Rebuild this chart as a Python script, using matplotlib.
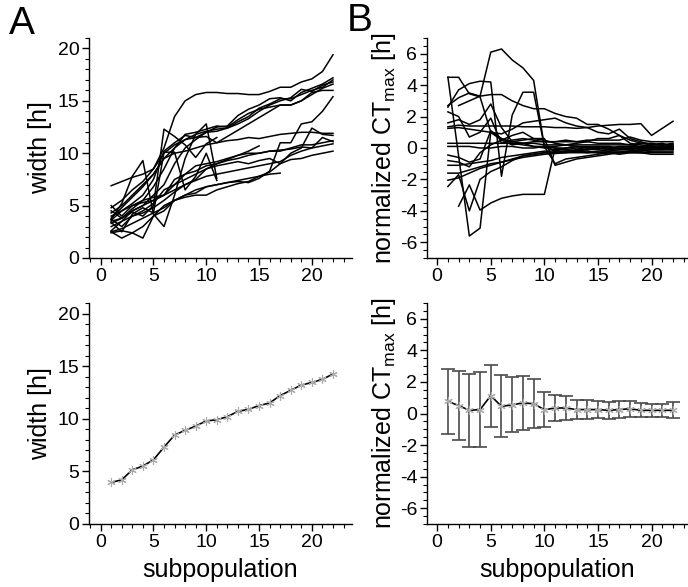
import numpy as np
import matplotlib
matplotlib.use("Agg")
from matplotlib import pyplot as plt
from matplotlib.ticker import MultipleLocator

plt.rcParams['font.family'] = ['Liberation Sans', 'DejaVu Sans']
plt.rcParams['mathtext.fontset'] = 'custom'
plt.rcParams['mathtext.rm'] = 'Liberation Sans'
plt.rcParams['mathtext.it'] = 'Liberation Sans'
plt.rcParams['axes.unicode_minus'] = False

# width [h] per subpopulation, one list per lineage (starting at subpopulation 1)
width_lines = [
    [4.8, 5.5, 6.5, 7.3, 8.5, 10.5, 13.5, 15.0, 15.6, 15.8, 15.8, 15.7, 15.7, 15.6, 15.6, 15.9, 16.3, 16.3, 16.8, 17.1, 17.8, 19.4],
    [3.6, 4.5, 5.2, 6.0, 7.5, 10.2, 11.0, 11.7, 11.5, 12.0, 12.5, 12.6, 13.6, 14.2, 14.6, 15.2, 15.3, 15.0, 15.8, 16.2, 16.6, 17.2],
    [3.3, 3.8, 4.7, 5.5, 6.8, 8.5, 10.5, 11.3, 11.8, 12.1, 12.3, 12.4, 13.0, 13.5, 14.3, 14.7, 15.2, 15.2, 15.6, 16.0, 16.3, 17.0],
    [2.6, 3.5, 4.5, 5.0, 6.0, 7.0, 9.0, 10.5, 11.3, 12.0, 12.1, 12.4, 12.8, 13.3, 14.0, 14.6, 15.0, 15.3, 16.1, 15.9, 16.5, 16.8],
    [4.3, 5.0, 6.0, 7.0, 8.0, 9.5, 10.0, 10.2, 10.5, 10.8, 11.0, 11.6, 12.2, 12.8, 13.4, 14.0, 14.6, 14.6, 15.0, 15.6, 16.2, 16.6],
    [3.8, 4.8, 5.8, 6.8, 8.0, 9.5, 10.5, 11.8, 12.0, 12.3, 12.6, 12.5, 13.2, 13.8, 14.2, 14.4, 14.6, 14.6, 15.0, 15.8, 16.0, 16.0],
    [2.4, 2.6, 2.4, 3.0, 4.0, 4.5, 5.5, 6.0, 6.5, 6.8, 7.0, 7.2, 7.3, 7.2, 7.6, 8.3, 11.0, 11.0, 12.8, 13.0, 14.0, 15.4],
    [6.9, 7.3, 7.7, 8.0, 8.5, 10.0, 10.8, 11.3, 11.5, 11.6, 11.0, 11.2, 11.3, 11.5, 11.4, 11.6, 11.8, 11.9, 12.0, 12.0, 11.9, 11.9],
    [5.0, 4.0, 5.0, 5.3, 5.5, 6.0, 6.5, 7.0, 7.5, 8.5, 8.8, 9.0, 9.2, 9.0, 9.3, 9.5, 9.0, 10.0, 10.5, 12.4, 11.8, 11.7],
    [4.0, 4.5, 5.0, 5.5, 5.8, 6.0, 7.0, 8.0, 8.8, 9.0, 9.2, 9.5, 9.8, 10.0, 10.0, 10.2, 10.2, 10.5, 10.8, 10.8, 11.0, 11.2],
    [3.7, 3.0, 4.0, 4.5, 5.2, 6.5, 7.0, 7.5, 8.0, 8.5, 9.0, 9.3, 9.5, 9.8, 10.0, 10.2, 10.3, 10.4, 10.6, 10.5, 11.5, 11.1],
    [3.0, 3.5, 4.0, 4.3, 4.8, 5.5, 6.3, 7.0, 7.4, 7.8, 8.0, 8.2, 8.4, 8.6, 8.8, 9.0, 9.2, 9.8, 10.2, 10.5, 10.7, 10.9],
    [2.5, 1.9, 2.4, 1.9, 4.0, 5.0, 5.5, 5.8, 6.0, 6.0, 6.5, 6.8, 7.1, 7.3, 7.8, 8.2, 9.0, 9.4, 9.5, 9.8, 10.0, 10.2],
    [3.5, 3.8, 4.5, 5.0, 5.5, 6.0, 7.5, 8.0, 8.3, 8.8, 9.0, 9.4, 9.8, 10.2, 10.7],
    [2.5, 2.8, 3.3, 3.8, 4.3, 4.8, 5.5, 6.0, 6.2, 6.8, 7.0, 7.2, 7.4, 7.6, 7.8, 8.0, 8.1],
    [3.7, 5.2, 7.8, 9.3, 4.2, 3.0, 6.0, 9.5, 11.8, 12.8, 7.6],
    [4.5, 3.8, 4.4, 4.0, 5.0, 12.3, 11.6, 10.8, 9.6, 10.9, 11.5],
    [3.4, 2.5, 4.2, 4.8, 4.3, 10.1, 10.1, 6.5, 7.8, 10.0, 7.4],
]

# normalized CT_max [h] per subpopulation, one list per lineage
ct_lines = [
    [2.7, 3.2, 3.5, 3.3, 6.1, 6.3, 5.6, 5.1, 4.3, 0.1, -0.2, 0.0, 0.1, 0.0, 0.1, 0.0, -0.1, 0.0, 0.1, 0.0, 0.1, 0.0],
    [4.5, 4.5, 3.45, 3.25, 1.0, 0.6, 0.4, 0.3, 0.3, 0.2, 0.2, 0.2, 0.1, 0.1, 0.1, 0.1, 0.0, 0.1, 0.0, 0.1, 0.0, 0.0],
    [4.5, -0.5, -5.6, -5.1, 1.0, 0.5, 0.2, 0.3, 0.1, 0.0, -0.1, -0.1, -0.2, -0.1, -0.1, -0.2, -0.1, -0.1, -0.2, -0.1, -0.1, -0.1],
    [np.nan, -3.7, -2.35, -3.95, -3.5, -3.2, -3.05, -2.95, -2.95, -2.95, 0.0, -0.1, 0.0, -0.1, 0.0, -0.1, 0.0, 0.0, -0.1, 0.0, 0.0, 0.0],
    [-2.45, -1.7, -4.0, -2.0, -1.5, -1.2, -0.8, -0.5, -0.4, -0.3, -0.3, -0.3, -0.2, -0.3, -0.2, -0.2, -0.2, -0.2, -0.3, -0.2, -0.2, -0.2],
    [2.6, 3.7, 4.1, 4.25, 4.2, -1.8, 2.1, 3.55, 3.55, 0.1, -1.0, -0.7, -0.6, -0.5, -0.4, -0.3, -0.3, -0.2, -0.2, -0.1, -0.1, 0.0],
    [2.3, 2.0, 0.7, 1.0, 1.9, 0.3, 0.5, 0.6, 0.5, 0.4, 0.4, 0.5, 0.4, 0.4, 0.3, 0.3, 0.3, 0.2, 0.3, 0.2, 0.2, 0.3],
    [1.35, 1.45, 1.4, 1.4, 1.4, 1.4, 1.4, 1.35, 1.35, 1.35, 1.3, 1.3, 1.25, 1.3, 1.4, 1.45, 1.5, 1.5, 1.55, 0.8, 1.25, 1.7],
    [np.nan, 2.7, 3.0, 3.3, 3.4, 3.4, 3.0, 2.7, 2.5, 2.5, 2.2, 2.0, 1.9, 1.5, 1.5, 1.2, 0.8, 0.5, 0.3, 0.3, 0.2, 0.2],
    [1.25, 1.3, 1.2, 1.1, 1.0, 0.9, 1.2, 1.6, 1.7, 1.8, 1.9, 1.6, 1.4, 1.3, 1.0, 0.9, 1.2, 0.6, 0.4, 0.2, 0.3, 0.1],
    [0.3, 0.3, 0.3, 0.3, 0.3, 0.3, 0.3, 0.3, 0.4, 0.4, 0.4, 0.4, 0.4, 0.5, 0.5, 0.5, 0.5, 0.7, 0.5, 0.4, 0.4, 0.4],
    [0.1, 0.1, 0.1, 0.0, 0.0, 0.1, 0.1, 0.0, 0.0, 0.1, 0.1, 0.2, 0.2, 0.2, 0.2, 0.2, 0.2, 0.2, 0.1, 0.2, 0.2, 0.2],
    [-0.45, -0.6, -0.9, -0.7, 1.1, 0.6, 0.3, 0.2, 0.1, 0.1, 0.0, 0.0, 0.1, 0.0, 0.0, -0.1, 0.0, -0.1, 0.0, -0.1, 0.0, -0.1],
    [-1.1, -1.1, -1.0, -0.9, -0.8, -0.6, -0.5, -0.4, -0.3, -0.2, -0.2, -0.2, -0.2, -0.2, -0.3, -0.3, -0.3, -0.3, -0.3, -0.3, -0.3, -0.3],
    [-1.6, -1.6, -1.4, -1.2, -1.0, -0.9, -0.75, -0.6, -0.5, -0.4, -0.35, -0.3, -0.3, -0.3, -0.3, -0.3, -0.4, -0.3, -0.3, -0.4, -0.4, -0.4],
    [-2.05, -1.9, -1.6, -1.3, -1.1, -0.9, -0.7, -0.5, -0.4, -0.3, -0.3, -0.2, -0.1, -0.1, 0.0, 0.0, 0.1, 0.1, 0.0, 0.1, 0.1, 0.1],
    [-0.8, -0.9, -1.2, -0.3, 0.2, 0.5, 0.8, 1.0, 0.6, 0.5, 0.3, 0.2, 0.3, 0.4, 0.6, 0.6, 0.8, 0.3, 0.2, 0.1, 0.0, 0.0],
    [1.6, 1.8, 1.5, 1.8, 2.8, 1.3, 0.4, 0.5, 0.6, 0.6, -1.1, -0.9, -0.7, -0.6, -0.5, -0.4, -0.3, -0.2, -0.1, 0.0, 0.1, 0.1],
]

# averages over lineages
subpop = list(range(1, 23))
width_mean = [3.95, 4.2, 5.15, 5.5, 6.1, 7.3, 8.45, 8.9, 9.3, 9.8, 9.9, 10.2, 10.7, 10.9,
              11.25, 11.5, 12.2, 12.7, 13.2, 13.45, 13.75, 14.25]
ct_mean = [0.77, 0.5, 0.2, 0.25, 1.13, 0.45, 0.55, 0.67, 0.62, 0.24, 0.35, 0.35, 0.25, 0.25,
           0.25, 0.2, 0.25, 0.3, 0.2, 0.2, 0.2, 0.2]
ct_err = [2.08, 2.2, 2.3, 2.35, 1.97, 1.97, 1.75, 1.7, 1.57, 1.12, 0.8, 0.74, 0.63, 0.63,
          0.53, 0.55, 0.56, 0.5, 0.45, 0.4, 0.4, 0.5]

W, H = 688, 587
fig = plt.figure(figsize=(W / 100, H / 100), dpi=100)


def px_axes(x0, y0, x1, y1):
    return fig.add_axes([x0 / W, 1 - y1 / H, (x1 - x0) / W, (y1 - y0) / H])


def style(ax, ymajor, yminor):
    for s in ['top', 'right']:
        ax.spines[s].set_visible(False)
    for s in ['left', 'bottom']:
        ax.spines[s].set_linewidth(1.0)
    ax.xaxis.set_major_locator(MultipleLocator(5))
    ax.xaxis.set_minor_locator(MultipleLocator(1))
    ax.yaxis.set_major_locator(MultipleLocator(ymajor))
    ax.yaxis.set_minor_locator(MultipleLocator(yminor))
    ax.tick_params(which='major', direction='out', length=5, width=1.0, labelsize=14, pad=2)
    ax.tick_params(which='minor', direction='out', length=3, width=0.8)


ax_a1 = px_axes(89, 38, 352, 258)
ax_b1 = px_axes(427, 38, 688, 258)
ax_a2 = px_axes(89, 303, 352, 524)
ax_b2 = px_axes(427, 303, 688, 524)

for y in width_lines:
    ax_a1.plot(range(1, len(y) + 1), y, color='black', lw=1.1)
for y in ct_lines:
    ax_b1.plot(range(1, len(y) + 1), y, color='black', lw=1.1)

ax_a2.plot(subpop, width_mean, color='black', lw=1.2, marker=(6, 2, 0),
           markersize=6, markeredgecolor='#aaaaaa', markeredgewidth=0.8)

ax_b2.errorbar(subpop, ct_mean, yerr=ct_err, fmt='none', ecolor='#4a4a4a',
               elinewidth=1.2, capsize=5, capthick=1.2)
ax_b2.plot(subpop, ct_mean, color='black', lw=1.2, marker=(6, 2, 0),
           markersize=6, markeredgecolor='#aaaaaa', markeredgewidth=0.8)

for ax in (ax_a1, ax_a2):
    ax.set_xlim(-1.1, 23.8)
    ax.set_ylim(0, 21)
    style(ax, 5, 1)
    ax.set_ylabel('width [h]', fontsize=18)
for ax in (ax_b1, ax_b2):
    ax.set_xlim(-0.95, 23.4)
    ax.set_ylim(-7, 7)
    style(ax, 2, 0.5)
    ax.set_ylabel('normalized CT$_{\\mathrm{max}}$ [h]', fontsize=18, labelpad=1)

ax_a2.set_xlabel('subpopulation', fontsize=18, labelpad=5)
ax_b2.set_xlabel('subpopulation', fontsize=18, labelpad=5)

fig.text(9 / W, 1 - 6 / H, 'A', fontsize=28, va='top', ha='left')
fig.text(347 / W, 1 - 3 / H, 'B', fontsize=28, va='top', ha='left')

fig.savefig('out.png', dpi=100)
